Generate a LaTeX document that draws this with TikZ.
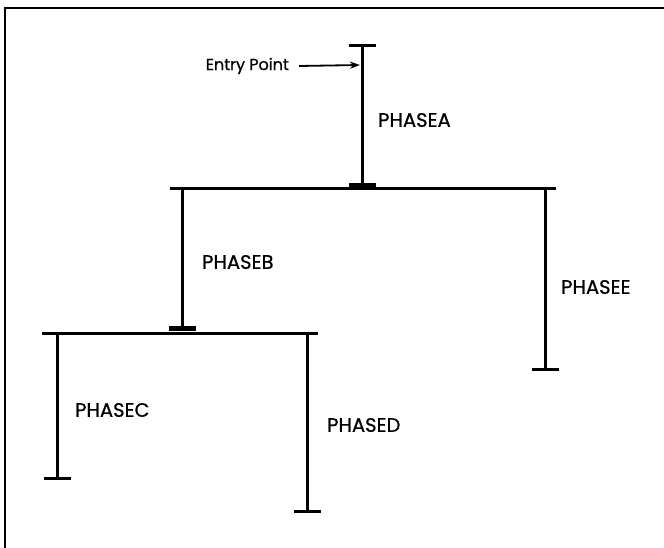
\documentclass[tikz,border=0pt]{standalone}
\usepackage{fontspec}
\setmainfont[FakeBold=0.8]{Poppins}
\usetikzlibrary{arrows.meta, positioning}

\begin{document}
\begin{tikzpicture}[x=1pt, y=-1pt,
    seg/.style={line width=3pt},
    tbar/.style={-{Bar[width=27pt]}},
    jbar/.style={-{Bar[width=27pt, line width=5pt]}},
    phasename/.style={anchor=west, inner sep=0pt, font=\fontsize{19.5}{22}\selectfont}]
   \useasboundingbox (0,0) rectangle (664,548);
   % frame
   \draw[line width=2.4pt] (5,548) -- (5,8) -- (664,8);
   % phase tree
   \coordinate (atop) at (362,44);
   \coordinate (abot) at (362,188);
   \coordinate (btop) at (182,189);
   \coordinate (bbot) at (182,331);
   \coordinate (etop) at (545,189);
   \coordinate (ebot) at (545,371);
   \coordinate (ctop) at (57,333);
   \coordinate (cbot) at (57,480);
   \coordinate (dtop) at (307,333);
   \coordinate (dbot) at (307,513);
   \draw[seg, {Bar[width=27pt]}-{Bar[width=27pt, line width=5pt]}] (atop) -- (abot);
   \draw[seg] ([xshift=-12pt]btop) -- ([xshift=11pt]etop);
   \draw[seg, jbar] (btop) -- (bbot);
   \draw[seg, tbar] (etop) -- (ebot);
   \draw[seg] ([xshift=-15pt]ctop) -- ([xshift=11pt]dtop);
   \draw[seg, tbar] (ctop) -- (cbot);
   \draw[seg, tbar] (dtop) -- (dbot);
   % labels
   \node[phasename] (pa) at (378,120) {PHASEA};
   \node[phasename] (pb) at (202,262) {PHASEB};
   \node[phasename] (pe) at (561,287) {PHASEE};
   \node[phasename] (pc) at (75,410) {PHASEC};
   \node[phasename] (pd) at (327,425) {PHASED};
   % entry point
   \coordinate (ahit) at (360,65);
   \node[anchor=east, inner sep=0pt, font=\fontsize{16}{19}\selectfont] (entry) at (289,66) {Entry Point};
   \draw[line width=1.8pt, -{Stealth[length=10pt, width=7pt]}] ([xshift=10pt]entry.east) -- (ahit);
\end{tikzpicture}
\end{document}
